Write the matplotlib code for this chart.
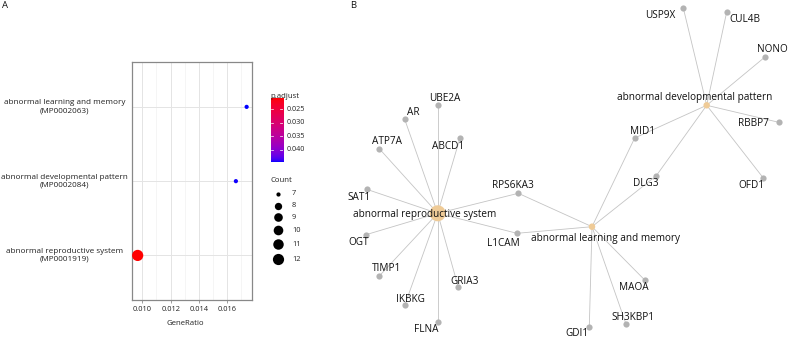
import numpy as np
import matplotlib
matplotlib.use('Agg')
import matplotlib.pyplot as plt
from matplotlib.colors import ListedColormap, Normalize

plt.rcParams['font.family'] = ['Open Sans', 'DejaVu Sans']

W, H = 789, 339

# ---------------- Panel A data ----------------
terms = ['abnormal reproductive system\n(MP0001919)',
         'abnormal developmental pattern\n(MP0002084)',
         'abnormal learning and memory\n(MP0002063)']
gene_ratio = [0.00967, 0.01661, 0.01737]
p_adjust = [0.0210, 0.0442, 0.0443]
counts = [12, 7, 7]
x_ticks = [0.010, 0.012, 0.014, 0.016]
x_minor = [0.011, 0.013, 0.015, 0.017]
pad_ticks = [0.025, 0.030, 0.035, 0.040]
count_levels = [7, 8, 9, 10, 11, 12]

# ---------------- Panel B data ----------------
categories = ['abnormal reproductive system',
              'abnormal learning and memory',
              'abnormal developmental pattern']
cat_counts = [12, 7, 7]
repro_genes = ['UBE2A', 'AR', 'ATP7A', 'ABCD1', 'SAT1', 'OGT', 'TIMP1',
               'IKBKG', 'FLNA', 'GRIA3', 'RPS6KA3', 'L1CAM']
learn_genes = ['RPS6KA3', 'L1CAM', 'MID1', 'DLG3', 'GDI1', 'SH3KBP1', 'MAOA']
devel_genes = ['MID1', 'DLG3', 'USP9X', 'CUL4B', 'NONO', 'RBBP7', 'OFD1']
cat_genes = [repro_genes, learn_genes, devel_genes]

# network layout (pixel coordinates of the figure) and label anchors
node_xy = {
    'abnormal reproductive system': (437.7, 213.3),
    'abnormal learning and memory': (592.0, 226.7),
    'abnormal developmental pattern': (706.7, 105.3),
    'UBE2A': (437.7, 105.3), 'AR': (404.7, 119.3), 'ATP7A': (379.3, 148.7),
    'ABCD1': (460.0, 138.0), 'SAT1': (366.7, 189.3), 'OGT': (366.0, 234.7),
    'TIMP1': (379.3, 276.0), 'IKBKG': (404.7, 305.3), 'FLNA': (437.7, 322.0),
    'GRIA3': (458.3, 287.3), 'RPS6KA3': (518.3, 193.3), 'L1CAM': (517.0, 233.3),
    'GDI1': (589.3, 326.7), 'SH3KBP1': (626.0, 324.0), 'MAOA': (644.7, 280.0),
    'DLG3': (656.3, 175.7), 'MID1': (634.7, 138.0), 'USP9X': (683.3, 8.0),
    'CUL4B': (726.7, 12.0), 'NONO': (765.3, 56.7), 'RBBP7': (778.7, 122.3),
    'OFD1': (763.3, 178.0),
}
label_xy = {
    'USP9X': (660.7, 16.0), 'CUL4B': (745.0, 20.0), 'NONO': (772.7, 50.0),
    'abnormal developmental pattern': (694.3, 97.3), 'RBBP7': (753.7, 123.3),
    'MID1': (642.7, 131.0), 'OFD1': (751.7, 186.0), 'DLG3': (645.3, 183.3),
    'UBE2A': (445.0, 98.7), 'AR': (413.3, 112.7), 'ATP7A': (387.0, 141.3),
    'ABCD1': (447.7, 146.7), 'RPS6KA3': (513.3, 185.0), 'SAT1': (359.3, 197.7),
    'abnormal reproductive system': (425.0, 214.3), 'OGT': (359.0, 242.3),
    'L1CAM': (503.3, 243.7), 'abnormal learning and memory': (605.3, 238.0),
    'TIMP1': (386.7, 268.7), 'GRIA3': (464.7, 281.0), 'MAOA': (634.3, 288.0),
    'IKBKG': (410.7, 299.0), 'SH3KBP1': (632.7, 317.3), 'FLNA': (426.3, 330.0),
    'GDI1': (576.7, 333.3),
}


# ---------------- helpers ----------------
def srgb_to_lab(rgb):
    rgb = np.asarray(rgb, float)
    lin = np.where(rgb <= 0.04045, rgb / 12.92, ((rgb + 0.055) / 1.055) ** 2.4)
    M = np.array([[0.4124, 0.3576, 0.1805],
                  [0.2126, 0.7152, 0.0722],
                  [0.0193, 0.1192, 0.9505]])
    xyz = M @ lin
    wp = np.array([0.95047, 1.0, 1.08883])
    t = xyz / wp
    f = np.where(t > (6 / 29) ** 3, np.cbrt(t), t / (3 * (6 / 29) ** 2) + 4 / 29)
    return np.array([116 * f[1] - 16, 500 * (f[0] - f[1]), 200 * (f[1] - f[2])])


def lab_to_srgb(lab):
    L, a, b = lab
    fy = (L + 16) / 116
    fx = fy + a / 500
    fz = fy - b / 200
    def finv(f):
        return np.where(f > 6 / 29, f ** 3, 3 * (6 / 29) ** 2 * (f - 4 / 29))
    wp = np.array([0.95047, 1.0, 1.08883])
    xyz = np.array([finv(fx), finv(fy), finv(fz)]) * wp
    Minv = np.array([[3.2406, -1.5372, -0.4986],
                     [-0.9689, 1.8758, 0.0415],
                     [0.0557, -0.2040, 1.0570]])
    lin = Minv @ xyz
    lin = np.clip(lin, 0, 1)
    rgb = np.where(lin <= 0.0031308, 12.92 * lin, 1.055 * lin ** (1 / 2.4) - 0.055)
    return np.clip(rgb, 0, 1)


lab_r = srgb_to_lab([1, 0, 0])
lab_b = srgb_to_lab([0, 0, 1])
cols = [lab_to_srgb(lab_r + (lab_b - lab_r) * t) for t in np.linspace(0, 1, 256)]
cmap = ListedColormap(cols)
norm = Normalize(vmin=min(p_adjust), vmax=max(p_adjust))


def dot_diam(c):
    return 4.2 + (11.2 - 4.2) * np.sqrt((c - min(count_levels)) / (max(count_levels) - min(count_levels)))


def px2s(d):
    return (d * 72 / 100) ** 2


fig = plt.figure(figsize=(W / 100, H / 100), dpi=100)
fig.patch.set_facecolor('white')

# ---------------- Panel A ----------------
axA = fig.add_axes([132.3 / W, (H - 300) / H, 120 / W, 237.7 / H])
ypos = np.arange(len(terms))
axA.set_xlim(0.00929, 0.01777)
axA.set_ylim(-0.6, len(terms) - 0.4)
for xm in x_minor:
    axA.axvline(xm, color='#f2f2f2', lw=0.5, zorder=0)
for xt in x_ticks:
    axA.axvline(xt, color='#e4e4e4', lw=0.7, zorder=0)
for y in ypos:
    axA.axhline(y, color='#e4e4e4', lw=0.7, zorder=0)
axA.scatter(gene_ratio, ypos, s=[px2s(dot_diam(c)) for c in counts],
            c=p_adjust, cmap=cmap, norm=norm, zorder=3, linewidths=0)
axA.set_xticks(x_ticks)
axA.set_xticklabels(['%.3f' % v for v in x_ticks], fontsize=5.4, color='#222222')
axA.set_yticks(ypos)
axA.set_yticklabels([])
axA.tick_params(axis='x', length=2, width=0.5, color='#777777', pad=2)
axA.tick_params(axis='y', length=0)
for sp in axA.spines.values():
    sp.set_color('#888888')
    sp.set_linewidth(0.9)
for t, yy in zip(terms, ypos):
    ydisp = axA.transData.transform((0.01, yy))[1]
    fig.text(64.5 / W, ydisp / H, t, ha='center', va='center', fontsize=5.9,
             multialignment='center', linespacing=1.15, color='#222222')
fig.text(185.3 / W, 1 - 323.3 / H, 'GeneRatio', ha='center', va='center',
         fontsize=5.6, color='#222222')

# colorbar
axC = fig.add_axes([270.7 / W, (H - 161.7) / H, 12 / W, 63.4 / H])
grad = np.linspace(norm.vmin, norm.vmax, 256)[:, None]
axC.imshow(grad, cmap=cmap, norm=norm, aspect='auto', origin='lower',
           extent=[0, 1, norm.vmin, norm.vmax])
axC.set_xlim(0, 1)
axC.set_ylim(norm.vmax, norm.vmin)
axC.set_xticks([])
axC.set_yticks([])
for sp in axC.spines.values():
    sp.set_visible(False)
for v in pad_ticks:
    axC.plot([0, 0.2], [v, v], color='white', lw=0.5)
    axC.plot([0.8, 1], [v, v], color='white', lw=0.5)
    axC.text(1.3, v, '%.3f' % v, ha='left', va='center', fontsize=5.2,
             color='#222222', transform=axC.get_yaxis_transform())
fig.text(270.7 / W, 1 - 96 / H, 'p.adjust', ha='left', va='center', fontsize=5.6,
         color='#222222')

# ---------------- overlay (legend for Count + Panel B network) ----------------
axN = fig.add_axes([0, 0, 1, 1])
axN.set_xlim(0, W)
axN.set_ylim(H, 0)
axN.axis('off')
axN.patch.set_alpha(0)

fig.text(270.7 / W, 1 - 180.7 / H, 'Count', ha='left', va='center', fontsize=5.6,
         color='#222222')
key_y = [193.7, 205.7, 217.3, 230.3, 244.0, 259.3]
for c, ky in zip(count_levels, key_y):
    axN.scatter([278.3], [ky], s=px2s(dot_diam(c)), color='black', linewidths=0)
    axN.text(292, ky, str(c), ha='left', va='center', fontsize=5.4, color='#222222')

# network edges
for cat, genes in zip(categories, cat_genes):
    cx, cy = node_xy[cat]
    for g in genes:
        gx, gy = node_xy[g]
        axN.plot([cx, gx], [cy, gy], color='#c4c4c4', lw=0.6, zorder=1)

all_genes = []
for genes in cat_genes:
    for g in genes:
        if g not in all_genes:
            all_genes.append(g)
axN.scatter([node_xy[g][0] for g in all_genes], [node_xy[g][1] for g in all_genes],
            s=px2s(6.2), color='#b3b3b3', linewidths=0, zorder=2)
cat_d = [6.5 + (16 - 6.5) * np.sqrt((c - 7) / 5) for c in cat_counts]
axN.scatter([node_xy[c][0] for c in categories], [node_xy[c][1] for c in categories],
            s=[px2s(d) for d in cat_d], color='#efcb97', linewidths=0, zorder=2)

for name in categories + all_genes:
    lx, ly = label_xy[name]
    axN.text(lx, ly, name, ha='center', va='center', fontsize=7.2, color='#111111',
             zorder=4)

fig.text(4.5 / W, 1 - 5.5 / H, 'A', ha='center', va='center', fontsize=6.8,
         color='#111111')
fig.text(352.7 / W, 1 - 5.5 / H, 'B', ha='center', va='center', fontsize=6.8,
         color='#111111')

fig.savefig('out.png', dpi=100, facecolor='white')
